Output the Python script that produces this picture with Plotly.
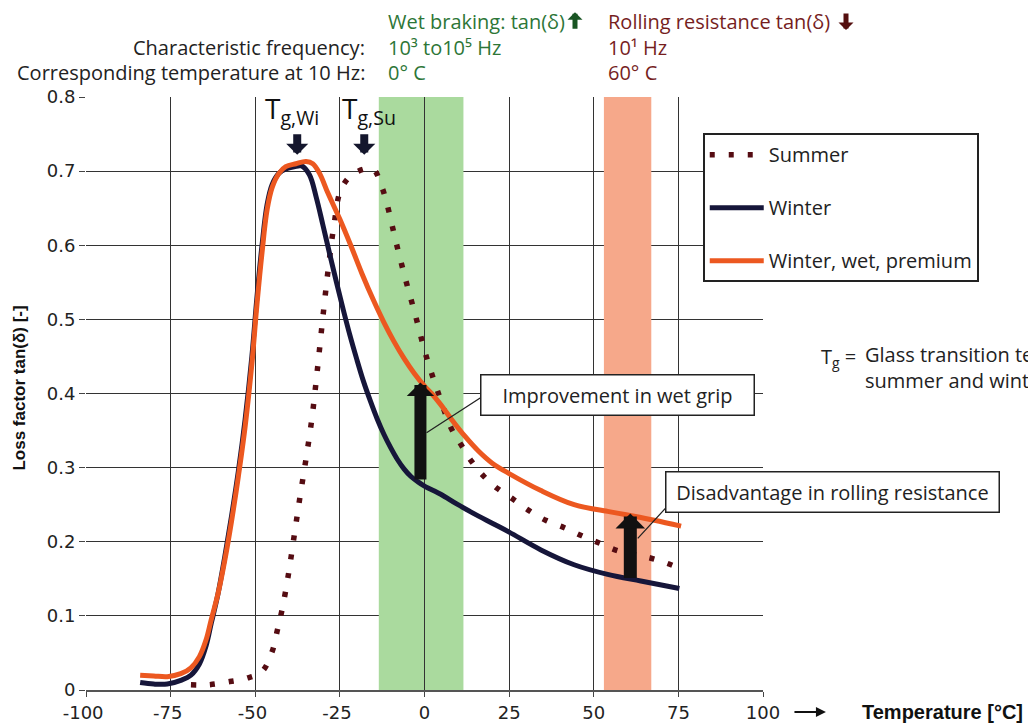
import plotly.graph_objects as go

# ---------------- data ----------------
winter_T = [-84, -80, -76, -72, -69, -66.5, -64.5, -63, -61, -59, -57, -55, -53, -51, -49.5, -48, -46.5, -45,
            -43, -41, -38.5, -36.3, -34, -32, -30, -28, -26, -24, -22, -20, -18, -16, -14, -12, -10, -8,
            -6, -4, -2, 0, 4.8, 9.5, 14.6, 20, 25, 34.4, 44.2, 54.1, 63.9, 75.3]
winter_Y = [0.010, 0.008, 0.008, 0.013, 0.02, 0.035, 0.06, 0.09, 0.13, 0.18, 0.235, 0.295, 0.365, 0.45,
            0.53, 0.60, 0.655, 0.682, 0.697, 0.703, 0.706, 0.707, 0.695, 0.665, 0.627, 0.588, 0.55, 0.513,
            0.478, 0.446, 0.416, 0.39, 0.366, 0.345, 0.327, 0.311, 0.298, 0.288, 0.281, 0.275, 0.264,
            0.251, 0.238, 0.225, 0.213, 0.189, 0.169, 0.156, 0.147, 0.137]

premium_T = [-84, -80, -76, -72, -69, -66.5, -64.5, -63, -61, -59, -57, -55, -53, -51, -49.5, -48, -46.5,
             -45, -43, -41, -38, -35, -33, -31, -28.5, -25, -21.8, -18.5, -15, -12, -9, -6, -3, 0, 2.1,
             4.8, 8, 12, 16, 20, 25, 34.4, 44.2, 54.1, 60, 67.9, 75.8]
premium_Y = [0.020, 0.019, 0.018, 0.022, 0.03, 0.045, 0.068, 0.095, 0.13, 0.175, 0.228, 0.288, 0.355, 0.44,
             0.52, 0.59, 0.648, 0.678, 0.697, 0.706, 0.71, 0.713, 0.71, 0.697, 0.67, 0.635, 0.60, 0.562,
             0.525, 0.496, 0.47, 0.447, 0.427, 0.41, 0.40, 0.385, 0.365, 0.342, 0.322, 0.306, 0.292,
             0.269, 0.25, 0.241, 0.236, 0.229, 0.221]

summer_T = [-69, -64, -58, -52.5, -48, -45, -43.5, -42, -40.2, -38.5, -36.8, -35, -33.3, -32, -30.8, -29.6,
            -28.3, -26.8, -24.6, -20.8, -15.3, -12.8, -11.1, -8.4, -5.6, -2.6, 0.4, 3.9, 7.9, 10.8, 13.8,
            17.4, 21.5, 26.3, 30.9, 35.8, 41.3, 46.5, 51.8, 57, 63, 68.4, 75]
summer_Y = [0.007, 0.007, 0.011, 0.016, 0.025, 0.052, 0.08, 0.11, 0.156, 0.208, 0.26, 0.312, 0.365, 0.417,
            0.469, 0.521, 0.573, 0.625, 0.676, 0.697, 0.703, 0.681, 0.656, 0.604, 0.554, 0.504, 0.452,
            0.403, 0.353, 0.331, 0.309, 0.289, 0.272, 0.257, 0.242, 0.229, 0.219, 0.208, 0.198, 0.188,
            0.182, 0.176, 0.165]

x_ticks = [-100, -75, -50, -25, 0, 25, 50, 75, 100]
x_ticktext = ["-100\u00a0", "-75\u00a0", "-50\u00a0", "-25\u00a0", "0", "25", "50", "75", "100"]
y_ticks = [0, 0.1, 0.2, 0.3, 0.4, 0.5, 0.6, 0.7, 0.8]
y_ticktext = ["0", "0.1", "0.2", "0.3", "0.4", "0.5", "0.6", "0.7", "0.8"]

wet_band = (-13.5, 11.5)
roll_band = (53, 67)
tg_wi = (-37.6, 0.722)
tg_su = (-17.8, 0.722)
wet_arrow = (-1.2, 0.282, 0.415)    # x, from, to
roll_arrow = (60.8, 0.149, 0.238)

TXT = "Open Sans, DejaVu Sans, sans-serif"
TICK = "DejaVu Sans, sans-serif"
BOLD = "Liberation Sans, Arial, sans-serif"
GREEN = "rgb(45,118,55)"
DRED = "rgb(118,30,30)"

fig = go.Figure()
fig.add_trace(go.Scatter(x=summer_T, y=summer_Y, name="Summer", mode="lines",
                         line=dict(color="rgb(85,12,18)", width=5.5, dash="5px,14px", shape="spline", smoothing=1.0),
                         legendgroup="a"))
fig.add_trace(go.Scatter(x=winter_T, y=winter_Y, name="Winter", mode="lines",
                         line=dict(color="rgb(22,22,58)", width=5, shape="spline", smoothing=1.0),
                         legendgroup="b"))
fig.add_trace(go.Scatter(x=premium_T, y=premium_Y, name="Winter, wet, premium", mode="lines",
                         line=dict(color="rgb(236,88,32)", width=5, shape="spline", smoothing=1.0),
                         legendgroup="c"))

shapes = [
    dict(type="rect", xref="x", yref="y", x0=wet_band[0], x1=wet_band[1], y0=0, y1=0.8,
         fillcolor="rgb(170,218,158)", line_width=0, layer="between"),
    dict(type="rect", xref="x", yref="y", x0=roll_band[0], x1=roll_band[1], y0=0, y1=0.8,
         fillcolor="rgb(246,168,138)", line_width=0, layer="between"),
    dict(type="line", xref="x", yref="y", x0=0, x1=0, y0=0, y1=0.8,
         line=dict(color="#333", width=1), layer="between"),
]

ann = []
# header text
hdr = [
    (0.415, 1.084, "Characteristic frequency:", "right", "#222"),
    (0.415, 1.042, "Corresponding temperature at 10 Hz:", "right", "#222"),
    (0.443, 1.128, "Wet braking: tan(δ)", "left", GREEN),
    (0.443, 1.084, "10³ to10⁵ Hz", "left", GREEN),
    (0.443, 1.042, "0° C", "left", GREEN),
    (0.768, 1.128, "Rolling resistance tan(δ)", "left", DRED),
    (0.768, 1.084, "10¹ Hz", "left", DRED),
    (0.768, 1.042, "60° C", "left", DRED),
]
for x, y, t, xa, c in hdr:
    ann.append(dict(xref="paper", yref="paper", x=x, y=y, text=t, xanchor=xa, yanchor="middle",
                    showarrow=False, font=dict(family=TXT, size=20, color=c)))
# header block arrows
ann.append(dict(xref="paper", yref="paper", x=0.7223, y=1.143, ax=0, ay=18, text="", showarrow=True,
                arrowhead=1, arrowsize=0.5, arrowwidth=5, arrowcolor="rgb(25,85,35)"))
ann.append(dict(xref="paper", yref="paper", x=1.1226, y=1.113, ax=0, ay=-18, text="", showarrow=True,
                arrowhead=1, arrowsize=0.5, arrowwidth=5, arrowcolor="rgb(85,15,15)"))

# Tg labels and arrows
for (tx, ty), lab, off in [(tg_wi, "T<sub>g,Wi</sub>", -1.5), (tg_su, "T<sub>g,Su</sub>", 1.5)]:
    ann.append(dict(xref="x", yref="y", x=tx, y=ty, text="", showarrow=True, arrowhead=1,
                    arrowsize=0.46, arrowwidth=8, arrowcolor="rgb(20,22,45)", ax=0, ay=-22))
    ann.append(dict(xref="x", yref="y", x=tx + off, y=ty, yshift=45, text=lab, showarrow=False,
                    xanchor="center", yanchor="middle", font=dict(family=TXT, size=28, color="#111")))

# big arrows
for xx, y0, y1, w in [(wet_arrow[0], wet_arrow[1], wet_arrow[2], 12), (roll_arrow[0], roll_arrow[1], roll_arrow[2], 13)]:
    ann.append(dict(xref="x", yref="y", x=xx, y=y1, axref="x", ayref="y", ax=xx, ay=y0, text="",
                    showarrow=True, arrowhead=1, arrowsize=0.38, arrowwidth=w, arrowcolor="#111"))

# callout connector lines
ann.append(dict(xref="x", yref="y", x=0.6, y=0.347, ax=55.5, ay=-36, text="", showarrow=True,
                arrowhead=0, arrowwidth=1.3, arrowcolor="#222"))
ann.append(dict(xref="x", yref="y", x=63, y=0.2045, ax=29, ay=-31.5, text="", showarrow=True,
                arrowhead=0, arrowwidth=1.3, arrowcolor="#222"))
# callout boxes
ann.append(dict(xref="paper", yref="paper", x=0.785, y=0.4975, text="Improvement in wet grip",
                showarrow=False, xanchor="center", yanchor="middle",
                bordercolor="#222", borderwidth=1.5, borderpad=6, bgcolor="white",
                width=260, font=dict(family=TXT, size=20, color="#222")))
ann.append(dict(xref="paper", yref="paper", x=1.1027, y=0.3339, text="Disadvantage in rolling resistance",
                showarrow=False, xanchor="center", yanchor="middle",
                bordercolor="#222", borderwidth=1.5, borderpad=6, bgcolor="white",
                width=320, font=dict(family=TXT, size=20, color="#222")))

# Tg definition
ann.append(dict(xref="paper", yref="paper", x=1.141, y=0.56, text="T<sub>g</sub> =", xanchor="right",
                yanchor="middle", showarrow=False, font=dict(family=TXT, size=20, color="#222")))
ann.append(dict(xref="paper", yref="paper", x=1.1477, y=0.544,
                text="Glass transition temperature of<br>summer and winter tires", xanchor="left", align="left",
                yanchor="middle", showarrow=False, font=dict(family=TXT, size=20, color="#222")))

# axis titles
ann.append(dict(xref="paper", yref="paper", x=-0.0975, y=0.51, text="<b>Loss factor tan(δ) [-]</b>",
                textangle=-90, showarrow=False, xanchor="center", yanchor="middle",
                font=dict(family=BOLD, size=17, color="#111")))
ann.append(dict(xref="paper", yref="paper", x=1.144, y=-0.037, text="<b>Temperature [°C]</b>",
                xanchor="left", yanchor="middle", showarrow=False,
                font=dict(family=BOLD, size=20, color="#111")))
ann.append(dict(xref="paper", yref="paper", x=1.093, y=-0.037, ax=-33, ay=0, text="",
                showarrow=True, arrowhead=2, arrowwidth=2, arrowsize=1, arrowcolor="#111"))

fig.update_layout(
    width=1028, height=724,
    margin=dict(l=86, r=265, t=97, b=34),
    paper_bgcolor="white", plot_bgcolor="white",
    shapes=shapes, annotations=ann,
    legend=dict(x=0.911, y=0.939, xanchor="left", yanchor="top", bgcolor="white",
                bordercolor="#222", borderwidth=2, traceorder="grouped", tracegroupgap=24,
                itemwidth=54, font=dict(family=TXT, size=20, color="#222")),
    xaxis=dict(range=[-100, 100], tickvals=x_ticks, ticktext=x_ticktext, showgrid=True, gridcolor="#333",
               gridwidth=1, zeroline=False, showline=True, linecolor="#555", linewidth=2, ticks="outside",
               ticklen=5, tickcolor="#444", automargin=False,
               tickfont=dict(family=TICK, size=18, color="#222")),
    yaxis=dict(range=[0, 0.8], tickvals=y_ticks, ticktext=y_ticktext, showgrid=True, gridcolor="#333",
               gridwidth=1, zeroline=False, showline=False, ticks="outside", ticklen=6, tickcolor="#444",
               automargin=False, tickfont=dict(family=TICK, size=18, color="#222")),
)

fig.write_html("out.html")
